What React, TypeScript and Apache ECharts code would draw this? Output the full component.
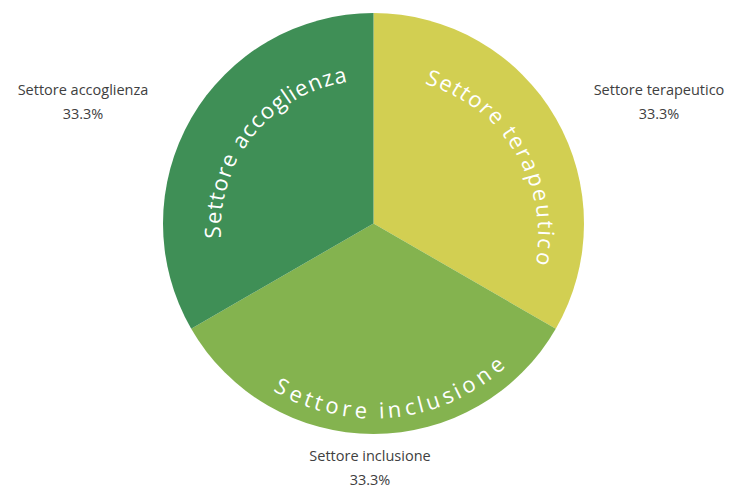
import React, { useEffect, useRef } from 'react';
import * as echarts from 'echarts';

const categories = ['Settore terapeutico', 'Settore inclusione', 'Settore accoglienza'];
const values = [1, 1, 1];
const colors = ['#D2CF52', '#84B34F', '#3F8F56'];

// layout (not data)
const W = 733;
const H = 488;
const CX = 373.5;
const CY = 223.5;
const R = 210.5;
const labelAnchors = [
  [659, 101],
  [370, 467],
  [83, 101],
];
// curved inner titles: start/end angles (deg, clockwise from 12 o'clock), radii, orientation
const arcs = [
  { start: 22.3, end: 101.7, r0: 158, r1: 176, inward: false, size: 22 },
  { start: 209.3, end: 139, r0: 186, r1: 186, inward: true, size: 22 },
  { start: 266.8, end: 347.2, r0: 162, r1: 153, inward: false, size: 22 },
];

const charW: Record<string, number> = {
  S: 0.55, e: 0.56, t: 0.36, o: 0.6, r: 0.41, ' ': 0.3, a: 0.56, c: 0.48, g: 0.55,
  l: 0.26, i: 0.26, n: 0.61, z: 0.47, p: 0.61, u: 0.61, s: 0.47,
};

function curvedText(text: string, cfg: typeof arcs[number]) {
  const chars = text.split('');
  const widths = chars.map((c) => charW[c] ?? 0.55);
  const centers: number[] = [];
  let acc = 0;
  widths.forEach((w) => {
    centers.push(acc + w / 2);
    acc += w;
  });
  const c0 = centers[0];
  const c1 = centers[centers.length - 1];
  const els: any[] = [];
  chars.forEach((ch, k) => {
    if (ch === ' ') return;
    const f = (centers[k] - c0) / (c1 - c0);
    const deg = cfg.start + (cfg.end - cfg.start) * f;
    const th = (deg * Math.PI) / 180;
    const r = cfg.r0 + (cfg.r1 - cfg.r0) * f;
    const x = CX + r * Math.sin(th);
    const y = CY - r * Math.cos(th);
    const rot = cfg.inward ? Math.PI - th : -th;
    els.push({
      type: 'text',
      x,
      y,
      rotation: rot,
      silent: true,
      z: 100,
      style: {
        text: ch,
        fill: '#ffffff',
        fontSize: cfg.size,
        fontFamily: 'Open Sans',
        align: 'center',
        verticalAlign: 'middle',
      },
    });
  });
  return els;
}

export default function App() {
  const ref = useRef<HTMLDivElement>(null);
  useEffect(() => {
    if (!ref.current) return;
    const chart = echarts.init(ref.current, null, { renderer: 'svg' });
    const total = values.reduce((a, b) => a + b, 0);
    const graphics: any[] = [];
    categories.forEach((c, i) => graphics.push(...curvedText(c, arcs[i])));
    chart.setOption({
      animation: false,
      color: colors,
      graphic: graphics,
      series: [
        {
          type: 'pie',
          center: [CX, CY],
          radius: [0, R],
          startAngle: 90,
          clockwise: true,
          data: categories.map((n, i) => ({ name: n, value: values[i] })),
          label: {
            show: true,
            position: 'outside',
            color: '#404040',
            fontSize: 14.5,
            lineHeight: 24,
            fontFamily: 'Open Sans',
            align: 'center',
            overflow: 'none',
            formatter: (p: any) => `${p.name}\n${((p.value / total) * 100).toFixed(1)}%`,
          },
          labelLine: { show: false },
          labelLayout: (p: any) => ({
            x: labelAnchors[p.dataIndex][0],
            y: labelAnchors[p.dataIndex][1],
            align: 'center',
            verticalAlign: 'middle',
          }),
          itemStyle: { borderWidth: 0 },
          emphasis: { disabled: true },
        },
      ],
    });
    return () => chart.dispose();
  }, []);
  return (
    <div
      ref={ref}
      style={{ position: 'fixed', left: 0, top: 0, width: W, height: H, background: '#fff' }}
    />
  );
}
